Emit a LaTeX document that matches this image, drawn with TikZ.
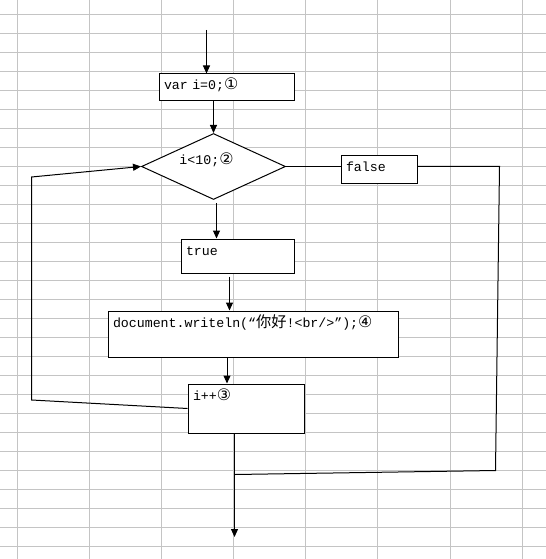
\documentclass[tikz,border=0pt]{standalone}
\usepackage{fontspec}
\setmonofont{Liberation Mono}
\newfontfamily\cjk[Scale=1.15]{Noto Sans CJK SC}
\newfontfamily\symfont[Scale=1.2]{DejaVu Sans}
\usepackage{tikz}
\usetikzlibrary{shapes.geometric, positioning, calc, arrows.meta}
\definecolor{gridgray}{RGB}{196,196,196}
\newcommand{\cnum}[1]{{\symfont #1}}

\tikzset{
	flowbox/.style={draw, fill=white, line width=1bp, anchor=north west, align=left,
		inner xsep=5bp, inner ysep=3bp, text height=13bp,
		font=\ttfamily\fontsize{13.3}{16}\selectfont},
	flowline/.style={line width=1bp},
	flowarrow/.style={line width=1bp, -{Triangle[length=8bp,width=7bp]}}
}

\begin{document}
\begin{tikzpicture}[x=1bp, y=-1bp]
	\useasboundingbox (0,0) rectangle (546,559);
	% sheet grid
	\foreach \k in {0,...,28}
		\draw[gridgray, line width=1bp] (0,14.5+19*\k) -- (546,14.5+19*\k);
	\foreach \x in {17,89,161,233,305,377,450,522}
		\draw[gridgray, line width=1bp] (\x.5,0) -- (\x.5,559);
	
	% blocks
	\node[flowbox, text width=125bp, text depth=8bp] (init) at (158.5,73.5) {var i=0;\cnum{①}};
	\node[draw, fill=white, line width=1bp, diamond, aspect=2.2, inner sep=0pt,
		minimum width=144bp, minimum height=66bp, text depth=15bp,
		font=\ttfamily\fontsize{13.3}{16}\selectfont] (test) at (213.5,166.5) {i<10;\cnum{②}\hspace*{14bp}};
	\node[flowbox, text width=103bp, text depth=15bp] (yes) at (180.5,238.5) {true};
	\node[flowbox, text width=66bp, text depth=9bp] (no) at (340.5,155.5) {false};
	\node[flowbox, text width=280bp, text depth=27bp] (print) at (107.5,310.5) {document.writeln(“{\cjk 你好}!<br/>”);\cnum{④}};
	\node[flowbox, text width=106bp, text depth=30bp] (inc) at (187.5,383.5) {i++\cnum{③}};
	
	\coordinate (start) at (206.5,30);
	\coordinate (end) at (234.5,537);
	\coordinate (lb) at (31.5,400);
	\coordinate (lt) at (31.5,177);
	\coordinate (rt) at (499.5,166.5);
	\coordinate (rb) at (495.5,470.5);
	\coordinate (join) at (235,474.5);
	\coordinate (a1) at ($(test.south)+(3,3)$);
	\coordinate (a2) at ($(yes.south)+(-8,3)$);
	\coordinate (a3) at ($(print.south)+(-26,0)$);
	
	% connectors
	\draw[flowarrow] (start) -- (start |- init.north);
	\draw[flowarrow] (test.north |- init.south) -- (test.north);
	\draw[flowarrow] (a1) -- (a1 |- yes.north);
	\draw[flowarrow] (a2) -- (a2 |- print.north);
	\draw[flowarrow] (a3) -- (a3 |- inc.north);
	\draw[flowarrow] (end |- inc.south) -- (end);
	\draw[flowarrow] (inc.west) -- (lb) -- (lt) -- (test.west);
	\draw[flowline] (test.east) -- (test.east -| no.west);
	\draw[flowline] (no.east |- rt) -- (rt) -- (rb) -- (join);
\end{tikzpicture}
\end{document}
